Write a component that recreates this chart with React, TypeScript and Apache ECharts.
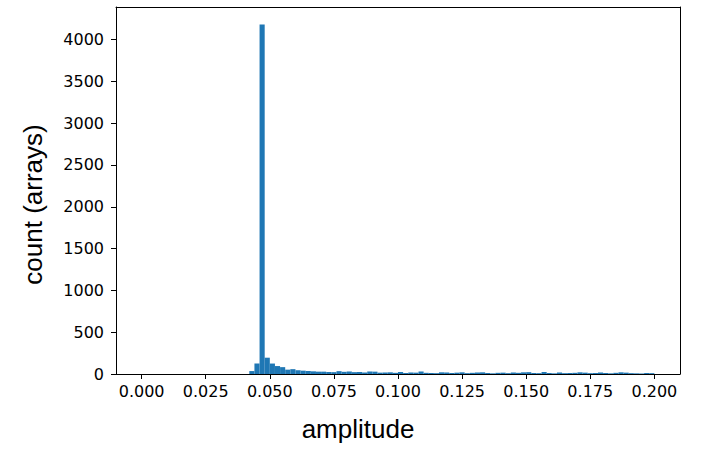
import React, { useEffect, useRef } from "react";
import * as echarts from "echarts";

// Histogram: bins of width 0.002 from 0 to 0.2 (100 bins)
const binStart = 0;
const binWidth = 0.002;
const counts: number[] = [
  0, 0, 0, 0, 0, 0, 0, 0, 0, 0,
  0, 0, 0, 0, 0, 0, 0, 0, 0, 0,
  0, 35, 125, 4180, 195, 125, 95, 82, 52, 58,
  45, 40, 36, 32, 28, 28, 24, 22, 34, 26,
  30, 22, 24, 18, 30, 28, 16, 18, 20, 14,
  24, 12, 18, 16, 30, 14, 12, 10, 20, 18,
  12, 16, 20, 10, 14, 18, 20, 12, 8, 14,
  16, 10, 18, 14, 20, 22, 12, 10, 24, 12,
  8, 18, 10, 12, 14, 20, 16, 10, 12, 18,
  12, 8, 14, 20, 16, 10, 8, 6, 12, 10,
];
const xTicks = [0, 0.025, 0.05, 0.075, 0.1, 0.125, 0.15, 0.175, 0.2];
const yTicks = [0, 500, 1000, 1500, 2000, 2500, 3000, 3500, 4000];
const xLabel = "amplitude";
const yLabel = "count (arrays)";

export default function App() {
  const ref = useRef<HTMLDivElement>(null);
  useEffect(() => {
    if (!ref.current) return;
    const chart = echarts.init(ref.current, undefined, { renderer: "svg" });
    const data = counts.map((c, i) => [
      binStart + i * binWidth,
      binStart + (i + 1) * binWidth,
      c,
    ]);
    const tickFont = { fontFamily: "DejaVu Sans", fontSize: 16, color: "#000" };
    const frameAxis = {
      axisLine: { show: true, onZero: false, lineStyle: { color: "#000", width: 1 } },
      axisTick: { show: false },
      axisLabel: { show: false },
      splitLine: { show: false },
    };
    chart.setOption({
      animation: false,
      backgroundColor: "#fff",
      grid: { left: 116, top: 7, right: 21, bottom: 87 },
      xAxis: [
        {
          type: "value",
          min: -0.01,
          max: 0.21,
          name: xLabel,
          nameLocation: "middle",
          nameGap: 42,
          nameTextStyle: {
            fontFamily: "Liberation Sans",
            fontSize: 26,
            color: "#000",
            padding: [0, 80, 0, 0],
          },
          splitLine: { show: false },
          axisLine: { show: true, onZero: false, lineStyle: { color: "#000", width: 1 } },
          axisTick: {
            show: true,
            length: 5,
            lineStyle: { color: "#000", width: 1 },
            customValues: xTicks,
          },
          axisLabel: {
            ...tickFont,
            margin: 9,
            customValues: xTicks,
            formatter: (v: number) => v.toFixed(3),
          },
        },
        { type: "value", min: -0.01, max: 0.21, position: "top", ...frameAxis },
      ],
      yAxis: [
        {
          type: "value",
          min: 0,
          max: 4389,
          name: yLabel,
          nameLocation: "middle",
          nameGap: 70,
          nameTextStyle: {
            fontFamily: "Liberation Sans",
            fontSize: 26,
            color: "#000",
            padding: [0, 28, 0, 0],
          },
          splitLine: { show: false },
          axisLine: { show: true, onZero: false, lineStyle: { color: "#000", width: 1 } },
          axisTick: {
            show: true,
            length: 5,
            lineStyle: { color: "#000", width: 1 },
            customValues: yTicks,
          },
          axisLabel: {
            ...tickFont,
            margin: 12,
            customValues: yTicks,
            formatter: (v: number) => String(v),
          },
        },
        { type: "value", min: 0, max: 4389, position: "right", ...frameAxis },
      ],
      series: [
        {
          type: "custom",
          xAxisIndex: 0,
          yAxisIndex: 0,
          data,
          encode: { x: [0, 1], y: 2 },
          renderItem: (params: any, api: any) => {
            const x0 = api.value(0);
            const x1 = api.value(1);
            const y = api.value(2);
            if (!y) return null;
            const p0 = api.coord([x0, y]);
            const p1 = api.coord([x1, 0]);
            return {
              type: "rect",
              shape: { x: p0[0], y: p0[1], width: p1[0] - p0[0], height: p1[1] - p0[1] },
              style: { fill: "#1f77b4" },
            };
          },
        },
      ],
    });
    return () => chart.dispose();
  }, []);
  return (
    <div
      ref={ref}
      style={{ position: "absolute", left: 0, top: 0, width: 701, height: 461 }}
    />
  );
}
